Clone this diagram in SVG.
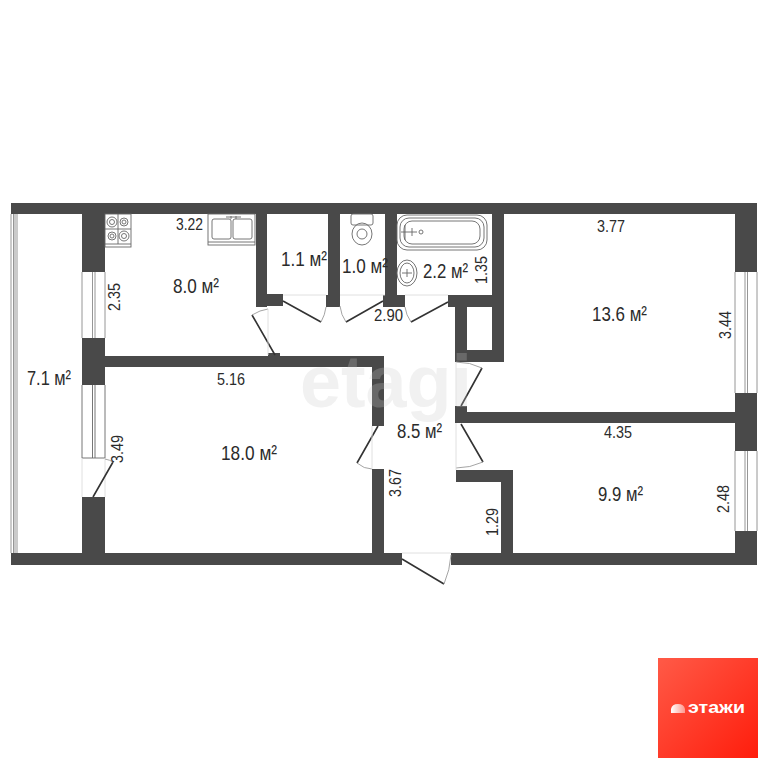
<svg xmlns="http://www.w3.org/2000/svg" width="768" height="768" viewBox="0 0 768 768">
<style>
.w{fill:#494949}
.d{fill:none;stroke:#333;stroke-width:1.6}
.a{fill:none;stroke:#9a9a9a;stroke-width:.9}
.t{fill:none;stroke:#dcdcdc;stroke-width:.9}
.f{fill:none;stroke:#666;stroke-width:.9}
.l{fill:none;stroke:#8a8a8a;stroke-width:.9}
text{font-family:"Liberation Sans",Arial,sans-serif;fill:#2b2b2b;font-size:16.500px}
.r{font-size:20px}
</style>
<defs>
<linearGradient id="g" x1="0" y1="0" x2="1" y2="1"><stop offset="0" stop-color="#ff5a47"/><stop offset="1" stop-color="#ff1d0c"/></linearGradient>
<linearGradient id="h" x1="0" y1="0" x2="1" y2="0"><stop offset="0" stop-color="#fff"/><stop offset="1" stop-color="#fff" stop-opacity=".45"/></linearGradient>
</defs>
<rect width="768" height="768" fill="#fff"/>
<g id="walls">
<rect class="w" x="11" y="203" width="746" height="11"/>
<rect class="w" x="11" y="553" width="391" height="12"/>
<rect class="w" x="451" y="553" width="306" height="12"/>
<rect class="w" x="82" y="214" width="23" height="58"/>
<rect class="w" x="82" y="338" width="23" height="47"/>
<rect class="w" x="82" y="497" width="23" height="56"/>
<rect class="w" x="105" y="356" width="279" height="11"/>
<rect class="w" x="372" y="356" width="12" height="70"/>
<rect class="w" x="372" y="469" width="12" height="84"/>
<rect class="w" x="256" y="214" width="11" height="93"/>
<rect class="w" x="256" y="294" width="27" height="12"/>
<rect class="w" x="328" y="214" width="12" height="81"/>
<rect class="w" x="326" y="295" width="14" height="12"/>
<rect class="w" x="385" y="214" width="12" height="81"/>
<rect class="w" x="383" y="295" width="22" height="12"/>
<rect class="w" x="492" y="214" width="12" height="148"/>
<rect class="w" x="448" y="295" width="56" height="12"/>
<rect class="w" x="455" y="295" width="12" height="67"/>
<rect class="w" x="455" y="350" width="49" height="12"/>
<rect class="w" x="455" y="406" width="12" height="17"/>
<rect class="w" x="467" y="412" width="268" height="11"/>
<rect class="w" x="456" y="470" width="57" height="12"/>
<rect class="w" x="501" y="470" width="12" height="83"/>
<rect class="w" x="735" y="214" width="22" height="58"/>
<rect class="w" x="735" y="393" width="22" height="58"/>
<rect class="w" x="735" y="531" width="22" height="22"/>
<rect class="w" x="268" y="353" width="12" height="5"/>
</g>
<g id="windows">
<path class="l" d="M11 214V553M13.500 214V553M15 214V553M17 214V553"/>
<path class="l" d="M82 272V338M105 272V338M92.500 272V338M95 272V338"/>
<path class="f" d="M82 385V458H105V385M92.500 385V458M95 385V458"/>
<path class="l" d="M735 272V393M757 272V393M745 272V393M747.500 272V393"/>
<path class="l" d="M735 451V531M757 451V531M745 451V531M747.500 451V531"/>
<path class="t" d="M82 458V497M105 458V497"/>
</g>
<g id="doors">
<path class="d" d="M275 355L252 315M283 301L321 322M383 301L346 322M448 302L411 322M461 406L482 368M461 424L483 462M378 426L357 463M93 497L113 462M402 559L444 584"/>
<path class="a" d="M252 315Q260 310 268 309M321 322Q325 315 326 307M346 322Q341 315 340 306M411 322Q406 315 405 307M482 368Q470 362 456 362M483 462Q470 468 456 468M357 463Q364 469 372 469M113 462Q110 460 105 459M444 584Q450 570 451 555"/>
<path class="t" d="M268 309V355M283 295H326M340 295H385M405 295H448M456 362V406M456 423V470M372 426V469M402 553H451"/>
</g>
<g id="fixtures">
<rect class="f" x="105" y="214" width="26" height="33"/>
<path class="f" d="M105 244H131M118 214V244M105 229H131"/>
<circle class="f" cx="112" cy="222" r="5"/><circle class="f" cx="112" cy="222" r="2.500"/>
<circle class="f" cx="124" cy="222" r="4"/><circle class="f" cx="124" cy="222" r="2"/>
<circle class="f" cx="112" cy="236" r="4"/><circle class="f" cx="112" cy="236" r="2"/>
<circle class="f" cx="124" cy="236" r="5"/><circle class="f" cx="124" cy="236" r="2.500"/>
<rect class="f" x="208" y="214" width="47" height="31"/>
<path class="f" d="M208 242H255"/>
<rect class="f" x="212" y="219" width="19" height="20" rx="2"/>
<rect class="f" x="233" y="219" width="19" height="20" rx="2"/>
<path class="f" d="M231 219V216M236 219V216M226 217H241"/>
<rect class="f" x="351" y="214" width="22" height="11" rx="2"/>
<ellipse class="f" cx="362" cy="234" rx="10" ry="11"/>
<ellipse class="f" cx="362" cy="234" rx="5" ry="5"/>
<rect class="f" x="397" y="215" width="90" height="35" rx="10"/>
<rect class="f" x="400" y="218" width="84" height="29" rx="9"/>
<rect class="f" x="404" y="221" width="76" height="23" rx="8"/>
<path class="f" d="M401 232H417M405 225V240M412 228V236"/>
<circle class="f" cx="421" cy="232" r="2"/>
<ellipse class="f" cx="407" cy="273" rx="10" ry="13"/>
<ellipse class="f" cx="407" cy="273" rx="7" ry="10"/>
<path class="f" d="M402 273H412M407 269V277"/>
</g>
<text x="300" y="407" style="font-size:74px;font-weight:700;fill:#c8c8c8;opacity:.25" textLength="172" lengthAdjust="spacingAndGlyphs">etagi</text>
<g id="labels">
<text x="176" y="230" textLength="27" lengthAdjust="spacingAndGlyphs">3.22</text>
<text class="r" x="173" y="293" textLength="46" lengthAdjust="spacingAndGlyphs">8.0 м²</text>
<text class="r" x="27" y="385" textLength="44" lengthAdjust="spacingAndGlyphs">7.1 м²</text>
<text x="217" y="385" textLength="28" lengthAdjust="spacingAndGlyphs">5.16</text>
<text class="r" x="281" y="266" textLength="46" lengthAdjust="spacingAndGlyphs">1.1 м²</text>
<text class="r" x="342" y="273" textLength="46" lengthAdjust="spacingAndGlyphs">1.0 м²</text>
<text class="r" x="423" y="278" textLength="45" lengthAdjust="spacingAndGlyphs">2.2 м²</text>
<text x="374" y="321" textLength="29" lengthAdjust="spacingAndGlyphs">2.90</text>
<text x="597" y="232" textLength="28" lengthAdjust="spacingAndGlyphs">3.77</text>
<text class="r" x="592" y="321" textLength="55" lengthAdjust="spacingAndGlyphs">13.6 м²</text>
<text class="r" x="221" y="460" textLength="56" lengthAdjust="spacingAndGlyphs">18.0 м²</text>
<text class="r" x="397" y="438" textLength="45" lengthAdjust="spacingAndGlyphs">8.5 м²</text>
<text x="604" y="438" textLength="28" lengthAdjust="spacingAndGlyphs">4.35</text>
<text class="r" x="598" y="501" textLength="45" lengthAdjust="spacingAndGlyphs">9.9 м²</text>
<text transform="translate(120 311) rotate(-90)" textLength="28" lengthAdjust="spacingAndGlyphs">2.35</text>
<text transform="translate(487 284) rotate(-90)" textLength="28" lengthAdjust="spacingAndGlyphs">1.35</text>
<text transform="translate(731 339) rotate(-90)" textLength="28" lengthAdjust="spacingAndGlyphs">3.44</text>
<text transform="translate(123 463) rotate(-90)" textLength="28" lengthAdjust="spacingAndGlyphs">3.49</text>
<text transform="translate(401 497) rotate(-90)" textLength="28" lengthAdjust="spacingAndGlyphs">3.67</text>
<text transform="translate(498 536) rotate(-90)" textLength="28" lengthAdjust="spacingAndGlyphs">1.29</text>
<text transform="translate(729 513) rotate(-90)" textLength="28" lengthAdjust="spacingAndGlyphs">2.48</text>
</g>
<g id="logo">
<rect x="658" y="658" width="100" height="100" fill="url(#g)"/>
<path d="M671 713V709Q672 704 678 704Q684 704 685 709V713Z" fill="url(#h)"/>
<text x="688" y="713" style="font-size:17px;font-weight:700;fill:#fff" textLength="57" lengthAdjust="spacingAndGlyphs">этажи</text>
</g>
</svg>
